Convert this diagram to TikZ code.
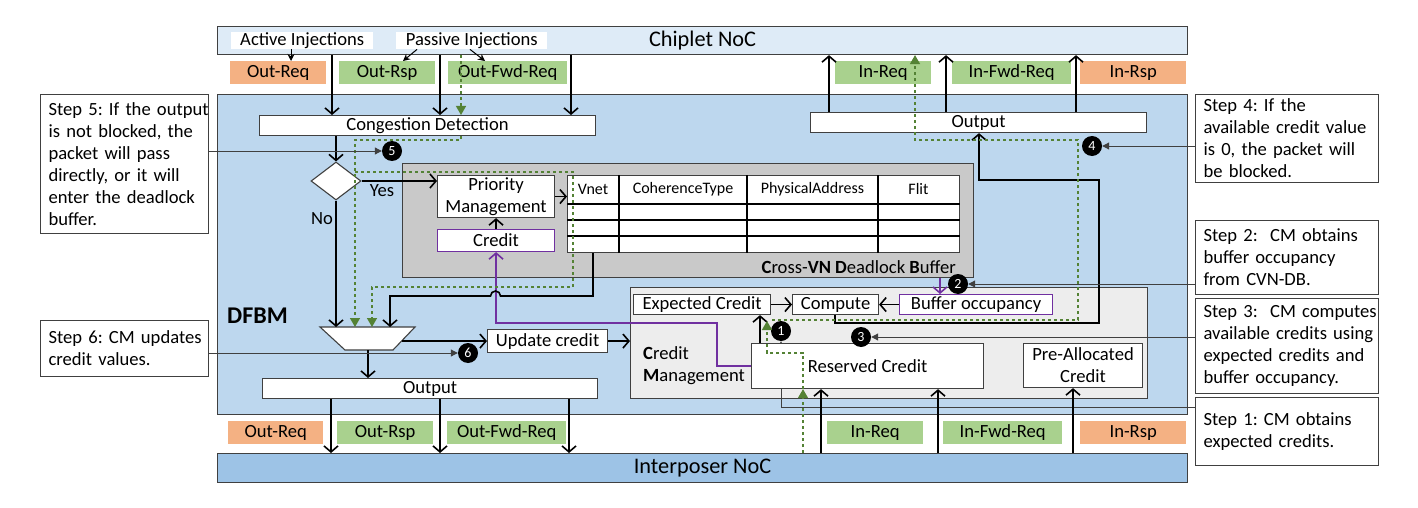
\documentclass[tikz,border=0pt]{standalone}
\usepackage{fontspec}
\setmainfont{Carlito}
\usetikzlibrary{arrows.meta,shapes.geometric}
\definecolor{chipc}{HTML}{DEEBF7}
\definecolor{dfbmc}{HTML}{BDD7EE}
\definecolor{interc}{HTML}{9DC3E6}
\definecolor{orangec}{HTML}{F4B183}
\definecolor{greenc}{HTML}{A9D18E}
\definecolor{greyc}{HTML}{C9C9C9}
\definecolor{cmc}{HTML}{EDEDED}
\definecolor{purplec}{HTML}{7030A0}
\definecolor{dgreen}{HTML}{548235}
\definecolor{bordc}{HTML}{404040}
\newcommand\mainsz{\fontsize{18.6}{22}\selectfont}
\newcommand\smallsz{\fontsize{16}{19}\selectfont}
\newcommand\bigsz{\fontsize{22.3}{26}\selectfont}
\newcommand\numsz{\fontsize{14}{16}\selectfont}
\tikzset{
  rbox/.style={draw=bordc, line width=1.1pt, fill=white, inner sep=0pt, anchor=north west, align=center},
  lab/.style={inner sep=0pt, anchor=north west, align=center},
  stepbox/.style={draw=bordc, line width=1.1pt, fill=white, inner sep=0pt, anchor=north west, align=left, font=\mainsz\frenchspacing},
  arr/.style={draw=black, line width=1.6pt, -{Straight Barb[length=6pt,width=14pt]}},
  garr/.style={draw=dgreen, line width=1.4pt, dash pattern=on 3pt off 3pt, -{Triangle[length=9pt,width=10pt,fill=dgreen]}},
  parr/.style={draw=purplec, line width=1.6pt, -{Straight Barb[length=6pt,width=14pt]}},
  sarr/.style={draw=bordc, line width=1pt, -{Triangle[length=7pt,width=7pt]}},
  iarr/.style={draw=black, line width=1pt, -{Stealth[length=7pt,width=7pt]}},
  tline/.style={draw=black, line width=1.1pt},
  bul/.style={circle, fill=black, text=white, inner sep=0pt, minimum size=20pt, font=\numsz},
}
\begin{document}
\begin{tikzpicture}[x=1pt,y=-1pt,font=\mainsz]
\useasboundingbox[fill=white] (0,0) rectangle (1418,508);

% main regions
\node[rbox, fill=chipc, minimum width=970, minimum height=28, font=\bigsz] (chiplet) at (217,26) {Chiplet NoC};
\node[rbox, fill=dfbmc, minimum width=970, minimum height=320] (dfbm) at (217,94) {};
\node[rbox, fill=interc, minimum width=970, minimum height=29, font=\bigsz] (inter) at (217,453) {Interposer NoC};

% injection labels
\node[lab, fill=white, minimum width=142, minimum height=17] (active) at (231,32) {Active Injections};
\node[lab, fill=white, minimum width=151, minimum height=17] (passive) at (396,32) {Passive Injections};

% top virtual network labels
\node[lab, fill=orangec, minimum width=96, minimum height=23] (outreqT) at (230,61) {Out-Req};
\node[lab, fill=greenc, minimum width=96, minimum height=23] (outrspT) at (339,61) {Out-Rsp};
\node[lab, fill=greenc, minimum width=119, minimum height=23] (outfwdT) at (448,61) {Out-Fwd-Req};
\node[lab, fill=greenc, minimum width=96, minimum height=23] (inreqT) at (835,61) {In-Req};
\node[lab, fill=greenc, minimum width=119, minimum height=23] (infwdT) at (952,61) {In-Fwd-Req};
\node[lab, fill=orangec, minimum width=106, minimum height=23] (inrspT) at (1080,61) {In-Rsp};

% bottom virtual network labels
\node[lab, fill=orangec, minimum width=95, minimum height=23] (outreqB) at (228,421) {Out-Req};
\node[lab, fill=greenc, minimum width=96, minimum height=23] (outrspB) at (337,421) {Out-Rsp};
\node[lab, fill=greenc, minimum width=119, minimum height=23] (outfwdB) at (447,421) {Out-Fwd-Req};
\node[lab, fill=greenc, minimum width=96, minimum height=23] (inreqB) at (827,421) {In-Req};
\node[lab, fill=greenc, minimum width=119, minimum height=23] (infwdB) at (943,421) {In-Fwd-Req};
\node[lab, fill=orangec, minimum width=106, minimum height=23] (inrspB) at (1080,421) {In-Rsp};

% DFBM label
\node[anchor=base west, inner sep=0pt, font=\fontsize{24}{28}\selectfont\bfseries] (dfbmlab) at (227,323) {DFBM};

% containers
\node[rbox, fill=greyc, minimum width=571, minimum height=114] (cvndb) at (402,163) {};
\node[anchor=base east, inner sep=0pt] (cvnlab) at (956,273) {\textbf{C}ross-\textbf{VN} \textbf{D}eadlock \textbf{B}uffer};
\node[rbox, fill=cmc, minimum width=517, minimum height=111] (cm) at (630,287) {};
\node[anchor=north west, inner sep=0pt, align=left] (cmlab) at (643,346) {\textbf{C}redit\\\textbf{M}anagement};

% bullet 1 and step 1 line (behind reserved credit box)
\node[bul] (b1) at (781,331) {1};
\node[stepbox, minimum width=183, minimum height=68, text width=167] (s1) at (1195,397) {\mbox{Step 1: CM obtains}\\\mbox{expected credits.}};
\draw[sarr] (s1.west |- 0,407) -- (b1 |- 0,407) -- (b1);

% boxes
\node[rbox, minimum width=336, minimum height=20] (cong) at (259,115) {Congestion Detection};
\node[rbox, minimum width=336, minimum height=20] (outtop) at (810,112) {Output};
\node[draw=bordc, fill=white, line width=1.1pt, shape=diamond, minimum width=50pt, minimum height=38pt, inner sep=0pt] (dia) at (336,181) {};
\node[rbox, minimum width=117, minimum height=42] (pm) at (437,175) {Priority\\Management};
\node[rbox, draw=purplec, minimum width=117, minimum height=22] (credit) at (437,229) {Credit};
\node[rbox, minimum width=392, minimum height=77] (tbl) at (567,175) {};
\draw[tline] (tbl.west |- 0,204) -- (tbl.east |- 0,204);
\draw[tline] (tbl.west |- 0,220) -- (tbl.east |- 0,220);
\draw[tline] (tbl.west |- 0,236) -- (tbl.east |- 0,236);
\draw[tline] (619,0 |- tbl.north) -- (619,0 |- tbl.south);
\draw[tline] (747,0 |- tbl.north) -- (747,0 |- tbl.south);
\draw[tline] (878,0 |- tbl.north) -- (878,0 |- tbl.south);
\node[font=\smallsz, inner sep=0pt] (hvnet) at (593,189.5) {Vnet};
\node[font=\smallsz, inner sep=0pt] (hcoh) at (683,189.5) {CoherenceType};
\node[font=\smallsz, inner sep=0pt] (hphy) at (812.5,189.5) {PhysicalAddress};
\node[font=\smallsz, inner sep=0pt] (hflit) at (918.5,189.5) {Flit};

\node[rbox, minimum width=137, minimum height=20] (exp) at (633,294) {Expected Credit};
\node[rbox, minimum width=86, minimum height=20] (comp) at (792,294) {Compute};
\node[rbox, draw=purplec, minimum width=153, minimum height=20] (bocc) at (899,294) {Buffer occupancy};
\node[rbox, minimum width=232, minimum height=45] (resv) at (751,343) {Reserved Credit};
\node[rbox, minimum width=119, minimum height=44] (prea) at (1023,343) {Pre-Allocated\\Credit};
\node[rbox, minimum width=120, minimum height=23] (upd) at (487,329) {Update credit};
\node[rbox, minimum width=335, minimum height=20] (outbot) at (262,378) {Output};

% mux
\coordinate (muxtl) at (320,327);
\coordinate (muxtr) at (415,327);
\coordinate (muxbr) at (393,350);
\coordinate (muxbl) at (345,350);
\coordinate (muxb) at (368,350);
\draw[draw=bordc, fill=white, line width=1.1pt] (muxtl) -- (muxtr) -- (muxbr) -- (muxbl) -- cycle;

% step boxes
\node[stepbox, minimum width=168, minimum height=139, text width=152] (s5) at (40,94) {\mbox{Step 5: If the output}\\\mbox{is not blocked, the}\\\mbox{packet will pass}\\\mbox{directly, or it will}\\\mbox{enter the deadlock}\\\mbox{buffer.}};
\node[stepbox, minimum width=168, minimum height=56, text width=152] (s6) at (40,320) {\mbox{Step 6: CM updates}\\\mbox{credit values.}};
\node[stepbox, minimum width=183, minimum height=88, text width=167] (s4) at (1195,94) {\mbox{Step 4: If the}\\\mbox{available credit value}\\\mbox{is 0, the packet will}\\\mbox{be blocked.}};
\node[stepbox, minimum width=183, minimum height=74, text width=167] (s2) at (1195,220) {\mbox{Step 2:\ \ CM obtains}\\\mbox{buffer occupancy}\\\mbox{from CVN-DB.}};
\node[stepbox, minimum width=183, minimum height=95, text width=167] (s3) at (1195,298) {\mbox{Step 3:\ \ CM computes}\\\mbox{available credits using}\\\mbox{expected credits and}\\\mbox{buffer occupancy.}};

% injection arrows
\draw[iarr] (291,0 |- active.south) -- (291,0 |- outreqT.north);
\draw[iarr] (417,0 |- passive.south) -- (403,0 |- outrspT.north);
\draw[iarr] (470,0 |- passive.south) -- (485,0 |- outfwdT.north);

% chiplet -> congestion detection
\foreach \xx in {332,440,571} \draw[arr] (\xx,0 |- chiplet.south) -- (\xx,0 |- cong.north);
% output -> chiplet
\foreach \xx in {829,946,1076} \draw[arr] (\xx,0 |- outtop.north) -- (\xx,0 |- chiplet.south);

% decision
\draw[arr] (cong.south -| dia.north) -- (dia.north);
\draw[arr] (dia.east) -- (dia.east -| pm.west);
\node[inner sep=0pt] (yes) at (382,191) {Yes};
\draw[arr] (dia.south) -- (dia.south |- muxtl);
\node[inner sep=0pt] (no) at (322,219) {No};
\draw[arr] (pm.east) -- (pm.east -| tbl.west);
\draw[arr] (credit.north) -- (pm.south);

% purple paths
\draw[parr] (resv.west) -- (717,0 |- resv.west) -- (717,323) -- (credit.south |- 0,323) -- (credit.south);
\draw[parr] (940,0 |- cvndb.south) -- (940,0 |- bocc.north);

% table -> mux (with hop over the purple line)
\draw[arr] (593,0 |- tbl.south) -- (593,296) -- (500.5,296) arc[start angle=0,end angle=-180,radius=5] -- (390,296) -- (390,0 |- muxtl);

% mux and update
\draw[arr] (402,0 |- upd.west) -- (upd.west);
\draw[arr] (upd.east) -- (upd.east -| cm.west);
\draw[arr] (muxb) -- (muxb |- outbot.north);
\foreach \xx in {331,440,569} \draw[arr] (\xx,0 |- outbot.south) -- (\xx,0 |- inter.north);

% interposer -> credit management
\foreach \xx in {821,938} \draw[arr] (\xx,0 |- inter.north) -- (\xx,0 |- resv.south);
\draw[arr] (1073,0 |- inter.north) -- (1073,0 |- prea.south);

% credit management internals
\draw[arr] (exp.east) -- (comp.west);
\draw[arr] (bocc.west) -- (comp.east);
\draw[arr] (760,0 |- resv.north) -- (760,0 |- exp.south);
\draw[arr] (835,0 |- comp.south) -- (835,323) -- (1099,323) -- (1099,180) -- (979,180) -- (979,0 |- outtop.south);

% green dashed packet paths
\draw[garr] (461,0 |- chiplet.south) -- (461,0 |- cong.north);
\draw[garr] (461,0 |- cong.south) -- (461,140) -- (355,140) -- (355,0 |- muxtl);
\draw[garr] (355,172) -- (573,172) -- (573,287) -- (372,287) -- (372,0 |- muxtl);
\draw[garr] (803,0 |- inter.north) -- (803,0 |- resv.south);
\draw[garr] (803,0 |- resv.south) -- (803,353) -- (767,353) -- (767,321);
\draw[garr] (772,320) -- (1078,320) -- (1078,140) -- (915,140) -- (915,0 |- chiplet.south);

% bullets
\node[bul] (b5) at (392,151) {5};
\node[bul] (b6) at (468,353) {6};
\node[bul] (b4) at (1092,146) {4};
\node[bul] (b2) at (958,284) {2};
\node[bul] (b3) at (861,337) {3};

% step connectors
\draw[sarr] (s5.east |- b5) -- (b5);
\draw[sarr] (s6.east |- b6) -- (b6);
\draw[sarr] (s4.west |- b4) -- (b4);
\draw[sarr] (s2.west |- b2) -- (b2);
\draw[sarr] (s3.west |- b3) -- (b3);
\end{tikzpicture}
\end{document}
